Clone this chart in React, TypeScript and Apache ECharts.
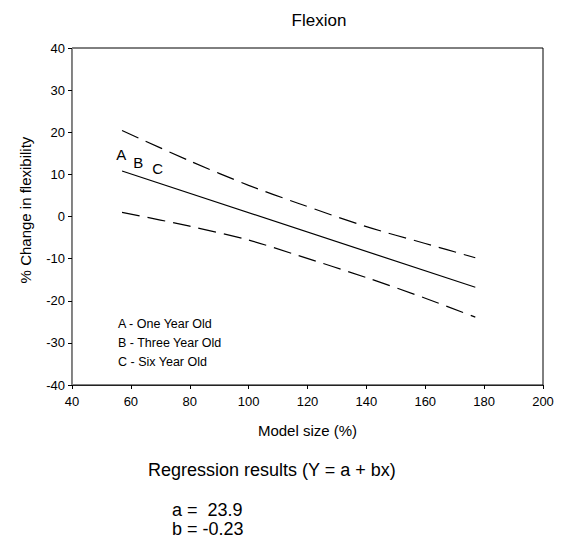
import React, { useEffect, useRef } from "react";
import * as echarts from "echarts";

const FONT = "'Liberation Sans', Arial, Helvetica, sans-serif";

const xTicks = [40, 60, 80, 100, 120, 140, 160, 180, 200];
const yTicks = [-40, -30, -20, -10, 0, 10, 20, 30, 40];

// regression line and 95% band
const regression: [number, number][] = [
  [57, 10.8],
  [177, -16.8],
];
const upperBand: [number, number][] = [
  [57, 20.4],
  [80, 13.2],
  [100, 7.4],
  [117, 3.1],
  [140, -2.4],
  [160, -6.4],
  [177, -9.8],
];
const lowerBand: [number, number][] = [
  [57, 1.0],
  [80, -2.3],
  [100, -5.6],
  [117, -9.3],
  [140, -14.5],
  [160, -19.4],
  [177, -23.9],
];
const groupMarks: [number, number, string][] = [
  [56.7, 14.8, "A"],
  [62.5, 12.8, "B"],
  [69.1, 11.5, "C"],
];
const legendLines = ["A - One Year Old", "B - Three Year Old", "C - Six Year Old"];
const regA = "23.9";
const regB = "-0.23";

export default function App() {
  const ref = useRef<HTMLDivElement>(null);
  useEffect(() => {
    document.body.style.margin = "0";
    const chart = echarts.init(ref.current!, undefined, { renderer: "svg" });
    const dashed = {
      color: "#000",
      width: 1.2,
      type: [18, 8] as number[],
    };
    chart.setOption({
      animation: false,
      backgroundColor: "#fff",
      textStyle: { fontFamily: FONT, color: "#000" },
      title: {
        text: "Flexion",
        left: 314,
        top: 7,
        textAlign: "center",
        textStyle: { fontFamily: FONT, fontSize: 17, fontWeight: "normal", color: "#000" },
      },
      grid: {
        left: 72,
        right: 31,
        top: 48,
        bottom: 156,
        show: true,
        borderColor: "#000",
        borderWidth: 1,
      },
      xAxis: {
        type: "value",
        min: xTicks[0],
        max: xTicks[xTicks.length - 1],
        interval: 20,
        name: "Model size (%)",
        nameLocation: "middle",
        nameGap: 38,
        nameTextStyle: { fontFamily: FONT, fontSize: 15, color: "#000" },
        axisLine: { show: true, onZero: false, lineStyle: { color: "#222", width: 1 } },
        axisTick: { show: true, length: 4, lineStyle: { color: "#000" } },
        axisLabel: { fontFamily: FONT, fontSize: 13, color: "#000", margin: 10 },
        splitLine: { show: false },
      },
      yAxis: {
        type: "value",
        min: yTicks[0],
        max: yTicks[yTicks.length - 1],
        interval: 10,
        axisLine: { show: true, onZero: false, lineStyle: { color: "#888", width: 1 } },
        axisTick: { show: true, length: 4, lineStyle: { color: "#000" } },
        axisLabel: { fontFamily: FONT, fontSize: 13, color: "#000", margin: 7 },
        splitLine: { show: false },
      },
      series: [
        {
          type: "line",
          data: regression,
          symbol: "none",
          lineStyle: { color: "#000", width: 1.2 },
        },
        {
          type: "line",
          data: upperBand,
          symbol: "none",
          smooth: 0.3,
          lineStyle: dashed,
        },
        {
          type: "line",
          data: lowerBand,
          symbol: "none",
          smooth: 0.3,
          lineStyle: dashed,
        },
        {
          type: "scatter",
          data: groupMarks.map((m) => ({ value: [m[0], m[1]], name: m[2] })),
          symbolSize: 1,
          itemStyle: { opacity: 0 },
          label: {
            show: true,
            position: "inside",
            formatter: (p: any) => p.name,
            fontFamily: FONT,
            fontSize: 15,
            color: "#000",
            textBorderWidth: 0,
            opacity: 1,
          },
        },
      ],
      graphic: [
        {
          type: "text",
          x: 25,
          y: 210,
          rotation: Math.PI / 2,
          style: {
            text: "% Change in flexibility",
            font: `15px ${FONT}`,
            fill: "#000",
            align: "center",
            verticalAlign: "middle",
          },
        },
        ...legendLines.map((t, i) => ({
          type: "text",
          x: 118,
          y: 324 + i * 19,
          style: { text: t, font: `12.5px ${FONT}`, fill: "#000", verticalAlign: "middle" },
        })),
        {
          type: "text",
          x: 148,
          y: 470,
          style: {
            text: "Regression results (Y = a + bx)",
            font: `18px ${FONT}`,
            fill: "#000",
            verticalAlign: "middle",
          },
        },
        {
          type: "text",
          x: 172,
          y: 510,
          style: { text: `a =  ${regA}`, font: `18px ${FONT}`, fill: "#000", verticalAlign: "middle" },
        },
        {
          type: "text",
          x: 172,
          y: 529,
          style: { text: `b = ${regB}`, font: `18px ${FONT}`, fill: "#000", verticalAlign: "middle" },
        },
      ],
    });
    return () => chart.dispose();
  }, []);
  return <div ref={ref} style={{ width: 574, height: 541, position: "absolute", left: 0, top: 0 }} />;
}
